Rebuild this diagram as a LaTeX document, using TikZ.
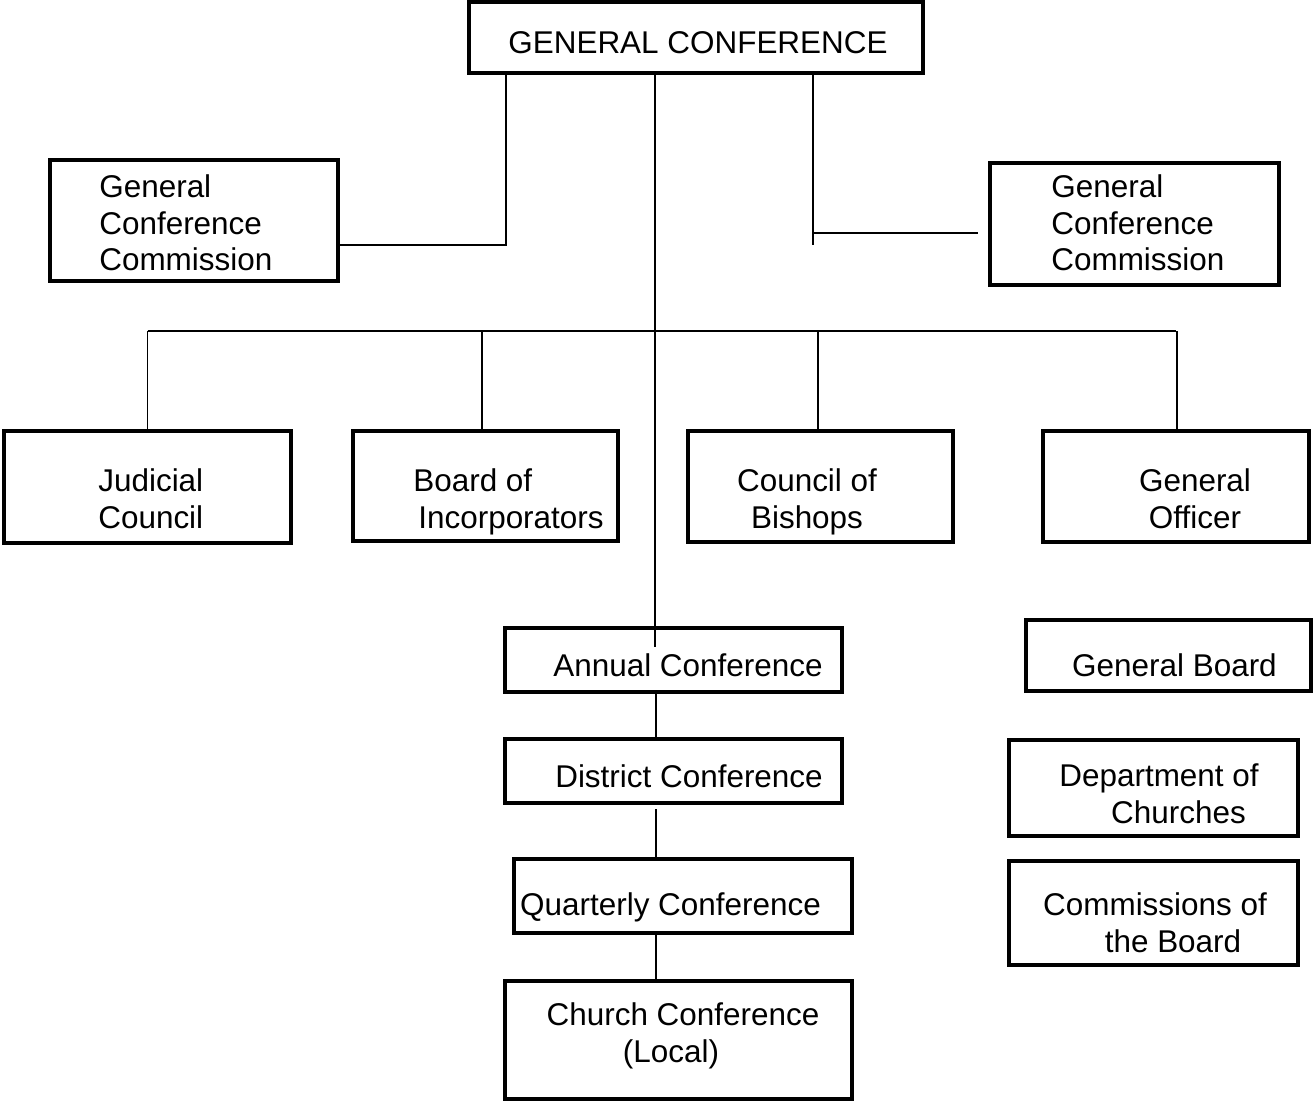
\documentclass[tikz,border=0pt]{standalone}
\usepackage{fontspec}
\setmainfont{Liberation Sans}
\usepackage{tikz}
\usetikzlibrary{positioning}

\tikzset{
  box/.style={draw, line width=2.8pt, inner sep=0pt},
  txt/.style={inner sep=0pt, font=\fontsize{17.9}{20.8}\selectfont},
  link/.style={line width=1.1pt}
}

\begin{document}
\begin{tikzpicture}[x=0.02cm, y=-0.02cm]
            \fill[white] (0,0) rectangle (1314,1103);
            \useasboundingbox (0,0) rectangle (1314,1103);

            % Boxes
            \node[box, minimum width=454*0.02cm, minimum height=71*0.02cm] (gc) at (696,37.5) {};
            \node[box, minimum width=288*0.02cm, minimum height=121*0.02cm] (gccL) at (194,220.5) {};
            \node[box, minimum width=289*0.02cm, minimum height=122*0.02cm] (gccR) at (1134.5,224) {};
            \node[box, minimum width=287*0.02cm, minimum height=112*0.02cm] (jc) at (147.5,487) {};
            \node[box, minimum width=265*0.02cm, minimum height=110*0.02cm] (boi) at (485.5,486) {};
            \node[box, minimum width=265*0.02cm, minimum height=111*0.02cm] (cob) at (820.5,486.5) {};
            \node[box, minimum width=266*0.02cm, minimum height=111*0.02cm] (go) at (1176,486.5) {};
            \node[box, minimum width=337*0.02cm, minimum height=64*0.02cm] (ac) at (673.5,660) {};
            \node[box, minimum width=337*0.02cm, minimum height=64*0.02cm] (dc) at (673.5,771) {};
            \node[box, minimum width=338*0.02cm, minimum height=74*0.02cm] (qc) at (683,896) {};
            \node[box, minimum width=347*0.02cm, minimum height=118*0.02cm] (cc) at (678.5,1040) {};
            \node[box, minimum width=285*0.02cm, minimum height=71*0.02cm] (gb) at (1168.5,655.5) {};
            \node[box, minimum width=289*0.02cm, minimum height=96*0.02cm] (dept) at (1153.5,788) {};
            \node[box, minimum width=289*0.02cm, minimum height=104*0.02cm] (cotb) at (1153.5,913) {};

            % Labels
            \node[txt, anchor=base] (gcT) at (698,53) {GENERAL CONFERENCE};
            \node[txt, anchor=west, align=left] (gccLT) at (99,223) {General\\Conference\\Commission};
            \node[txt, anchor=west, align=left] (gccRT) at (1051,223) {General\\Conference\\Commission};
            \node[txt, anchor=west, align=left] (jcT) at (98,498.5) {Judicial\\Council};
            \node[txt, anchor=west, align=left] (boiT) at (413,502) {Board of\\\hspace*{0.1cm}Incorporators};
            \node[txt, align=center] (cobT) at (807,502) {Council of\\Bishops};
            \node[txt, align=center] (goT) at (1195,498.5) {General\\Officer};
            \node[txt, anchor=base] (acT) at (688,676) {Annual Conference};
            \node[txt, anchor=base] (dcT) at (689,787) {District Conference};
            \node[txt, anchor=base] (qcT) at (670.5,915) {Quarterly Conference};
            \node[txt, align=center] (ccT) at (683,1036) {Church Conference\\(Local)\hspace*{0.48cm}};
            \node[txt, anchor=base] (gbT) at (1174.5,676) {General Board};
            \node[txt, align=center] (deptT) at (1159,793.5) {Department of\\\hspace*{0.78cm}Churches};
            \node[txt, align=center] (cotbT) at (1155,923) {Commissions of\\\hspace*{0.72cm}the Board};

            % Links from the General Conference
            \coordinate (jl) at (506,245);
            \coordinate (jr) at (813,245);
            \coordinate (jrh) at (813,233);
            \coordinate (trunk) at (655,647);
            \draw[link] (jl |- gc.south) -- (jl) -- (jl -| gccL.east);
            \draw[link] (jr |- gc.south) -- (jr);
            \draw[link] (jrh) -- ([xshift=-0.2cm]jrh -| gccR.west);
            \draw[link] (trunk |- gc.south) -- (trunk);

            % Bar over the four bodies
            \coordinate (bar) at (0,331);
            \draw[link] (jc.north |- bar) -- (go.north |- bar);
            \foreach \n/\dx in {jc/0,boi/-3.5,cob/-2.5,go/1}
              \draw[link] ([xshift=\dx*0.02cm]\n.north |- bar) -- ([xshift=\dx*0.02cm]\n.north);

            % Conference chain
            \coordinate (spine) at (656,0);
            \draw[link] (spine |- ac.south) -- (spine |- dc.north);
            \draw[link] ([yshift=-0.08cm]spine |- dc.south) -- (spine |- qc.north);
            \draw[link] (spine |- qc.south) -- (spine |- cc.north);
\end{tikzpicture}
\end{document}
